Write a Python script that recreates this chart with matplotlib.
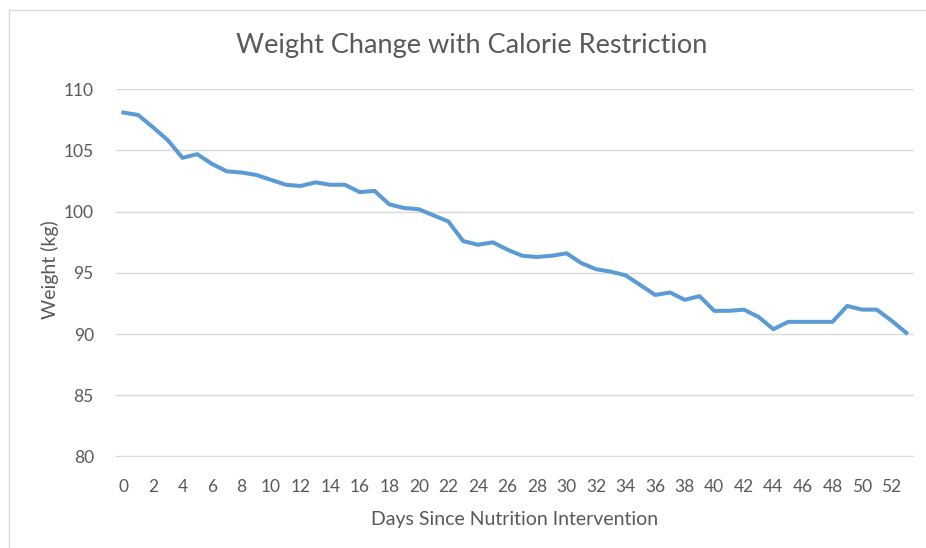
import matplotlib
matplotlib.use("Agg")
import matplotlib.pyplot as plt
from matplotlib.lines import Line2D
import numpy as np

plt.rcParams['font.family'] = ['Lato', 'DejaVu Sans']
text_color = '#595959'
grid_color = '#d9d9d9'

days = np.arange(0, 54)
weight = [108.1, 107.9, 106.9, 105.85, 104.4, 104.7, 103.9, 103.3, 103.2, 103.0,
          102.6, 102.2, 102.1, 102.4, 102.2, 102.2, 101.6, 101.7, 100.6, 100.3,
          100.2, 99.7, 99.2, 97.6, 97.3, 97.5, 96.9, 96.4, 96.3, 96.4,
          96.6, 95.8, 95.3, 95.1, 94.8, 94.0, 93.2, 93.4, 92.8, 93.1,
          91.9, 91.9, 92.0, 91.4, 90.4, 91.0, 91.0, 91.0, 91.0, 92.3,
          92.0, 92.0, 91.1, 90.1]
x_ticks = np.arange(0, 53, 2)
y_ticks = [80, 85, 90, 95, 100, 105, 110]

fig = plt.figure(figsize=(9.26, 5.48), dpi=100)
ax = fig.add_axes([116 / 926, 1 - 456.5 / 548, (913.7 - 116) / 926, (456.5 - 89.3) / 548])

ax.plot(days, weight, color='#5b9bd5', linewidth=2.9, solid_joinstyle='round', zorder=3)

ax.set_xlim(-0.5, 53.5)
ax.set_ylim(80, 110)
ax.set_xticks(x_ticks)
ax.set_yticks(y_ticks)
ax.grid(axis='y', color=grid_color, linewidth=1.0)
ax.set_axisbelow(True)
for s in ax.spines.values():
    s.set_visible(False)
ax.tick_params(axis='both', length=0, colors=text_color, labelsize=12.5)
ax.tick_params(axis='y', pad=16)
ax.tick_params(axis='x', pad=16)

fig.text(472 / 926, 1 - 45 / 548, 'Weight Change with Calorie Restriction',
         ha='center', va='center', fontsize=19.5, color=text_color)
fig.text(50 / 926, 1 - 270 / 548, 'Weight (kg)', rotation=90,
         ha='center', va='center', fontsize=14, color=text_color)
fig.text(515 / 926, 1 - 520 / 548, 'Days Since Nutrition Intervention',
         ha='center', va='center', fontsize=14, color=text_color)

# chart border (cropped on the right and bottom)
fig.add_artist(Line2D([9 / 926, 1.0], [1 - 10 / 548, 1 - 10 / 548], color=grid_color, linewidth=1.0))
fig.add_artist(Line2D([9 / 926, 9 / 926], [0.0, 1 - 10 / 548], color=grid_color, linewidth=1.0))

fig.savefig('out.png', dpi=100)
